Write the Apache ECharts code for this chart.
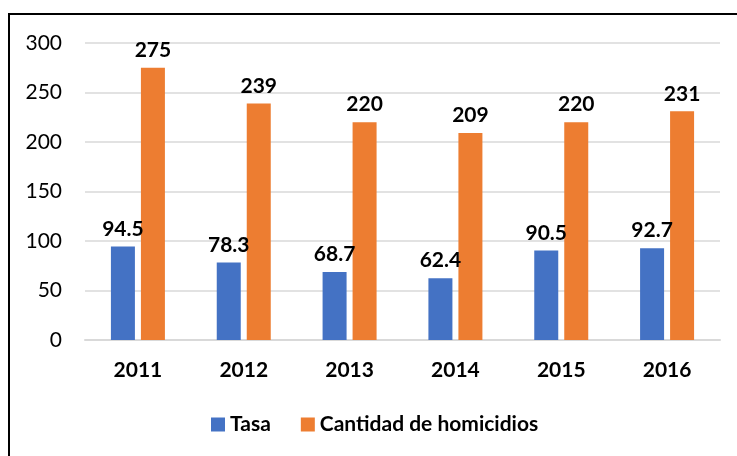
<!DOCTYPE html>
<html>
<head>
<meta charset="utf-8">
<script src="https://cdn.jsdelivr.net/npm/echarts@6/dist/echarts.min.js"></script>
<style>
  html, body { margin: 0; padding: 0; background: #fff; }
  #main { width: 737px; height: 456px; }
</style>
</head>
<body>
<div id="main"></div>
<script>
// años y valores
const years = ['2011', '2012', '2013', '2014', '2015', '2016']
const tasa = [94.5, 78.3, 68.7, 62.4, 90.5, 92.7]
const homicidios = [275, 239, 220, 209, 220, 231]
const yTicks = [0, 50, 100, 150, 200, 250, 300]

let chart = echarts.init(document.getElementById('main'))
let font = 'Lato, "Open Sans", sans-serif'
let label = {
  show: true,
  position: 'top',
  distance: 7,
  fontFamily: font,
  fontWeight: 'bold',
  fontSize: 21,
  color: '#000'
}
let option = {
  animation: false,
  textStyle: { fontFamily: font },
  // marco negro
  graphic: [{
    type: 'rect',
    shape: { x: 9, y: 14, width: 760, height: 480 },
    style: { fill: 'none', stroke: '#000', lineWidth: 2 },
    silent: true
  }],
  grid: { left: 85, right: 17, top: 43, bottom: 116 },
  legend: {
    left: 206,
    top: 409,
    itemWidth: 14,
    itemHeight: 14,
    itemGap: 30,
    icon: 'rect',
    textStyle: { fontFamily: font, fontWeight: 'bold', fontSize: 21, color: '#000' },
    data: ['Tasa', 'Cantidad de homicidios']
  },
  xAxis: {
    type: 'category',
    data: years,
    axisLine: { lineStyle: { color: '#d9d9d9', width: 2 } },
    axisTick: { show: false },
    axisLabel: { margin: 20, fontFamily: font, fontWeight: 'bold', fontSize: 21, color: '#000' }
  },
  yAxis: {
    type: 'value',
    min: yTicks[0],
    max: yTicks[yTicks.length - 1],
    interval: 50,
    axisLine: { show: false },
    axisTick: { show: false },
    splitLine: { lineStyle: { color: '#d9d9d9', width: 1.5 } },
    axisLabel: { margin: 23, fontFamily: font, fontSize: 21, color: '#000' }
  },
  series: [
    {
      name: 'Tasa',
      type: 'bar',
      data: tasa,
      barWidth: 24,
      barGap: '25%',
      itemStyle: { color: '#4472c4' },
      label: label
    },
    {
      name: 'Cantidad de homicidios',
      type: 'bar',
      data: homicidios,
      barWidth: 24,
      itemStyle: { color: '#ed7d31' },
      label: label
    }
  ]
}
chart.setOption(option)
</script>
</body>
</html>
